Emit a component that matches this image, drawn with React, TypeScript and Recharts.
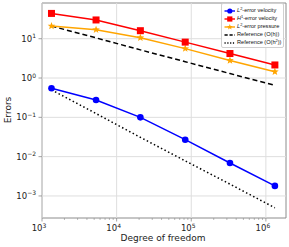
import React from 'react';
import { LineChart, Line, XAxis, YAxis, ReferenceLine, ReferenceArea } from 'recharts';

const dof = [1340, 5300, 20800, 83000, 330000, 1320000];
const l2Velocity = [0.55, 0.275, 0.1, 0.027, 0.0069, 0.0018];
const h1Velocity = [44, 30, 16, 8.2, 4.2, 2.15];
const l2Pressure = [21, 17, 10.6, 5.6, 2.8, 1.45];
const refH = [21, 10.5, 5.2, 2.6, 1.3, 0.65];
const refH2 = [0.5, 0.125, 0.031, 0.0078, 0.002, 0.0005];

const xMajor = [1e3, 1e4, 1e5, 1e6];
const xMajorExp = ['3', '4', '5', '6'];
const xMinor = [2, 3, 4, 5, 6, 7, 8, 9].flatMap(m => [m * 1e3, m * 1e4, m * 1e5]);
const yMajor = [1e1, 1e0, 1e-1, 1e-2, 1e-3];
const yMajorExp = ['1', '0', '\u22121', '\u22122', '\u22123'];

const X_DOMAIN: [number, number] = [1000, 1.86e6];
const Y_DOMAIN: [number, number] = [2.75e-4, 81];

const data = dof.map((d, i) => ({
    dof: d,
    l2Vel: l2Velocity[i],
    h1Vel: h1Velocity[i],
    l2Pres: l2Pressure[i],
    refH: refH[i],
    refH2: refH2[i],
}));

const FONT = 'DejaVu Sans, sans-serif';
const AXIS = '#8c8c8c';
const GRID = '#dedede';

const XTick = (props: any) => {
    const { x, y, payload } = props;
    const idx = xMajor.indexOf(payload.value);
    if (idx < 0) {
        return <line x1={x} x2={x} y1={y} y2={y + 2} stroke={AXIS} strokeWidth={0.6} />;
    }
    return (
        <g>
            <line x1={x} x2={x} y1={y} y2={y + 3.5} stroke={AXIS} strokeWidth={0.8} />
            <text x={x - 3} y={y + 13} textAnchor="middle" fontSize={8.5} fontFamily={FONT} fill="#222">
                10
                <tspan dy={-3.5} fontSize={6}>{xMajorExp[idx]}</tspan>
            </text>
        </g>
    );
};

const YTick = (props: any) => {
    const { x, y, payload } = props;
    const idx = yMajor.indexOf(payload.value);
    if (idx < 0) return null;
    return (
        <g>
            <line x1={x - 3.5} x2={x} y1={y} y2={y} stroke={AXIS} strokeWidth={0.8} />
            <text x={x - 6} y={y + 3} textAnchor="end" fontSize={8.5} fontFamily={FONT} fill="#222">
                10
                <tspan dy={-3.5} fontSize={6}>{yMajorExp[idx]}</tspan>
            </text>
        </g>
    );
};

const Square = (props: any) => {
    const { cx, cy } = props;
    if (cx == null || cy == null) return null;
    return <rect x={cx - 3.5} y={cy - 3.5} width={7} height={7} fill="#ff0000" />;
};

const starPoints = (cx: number, cy: number, ro: number, ri: number) => {
    const pts: string[] = [];
    for (let k = 0; k < 10; k++) {
        const r = k % 2 === 0 ? ro : ri;
        const a = -Math.PI / 2 + (k * Math.PI) / 5;
        pts.push(`${cx + r * Math.cos(a)},${cy + r * Math.sin(a)}`);
    }
    return pts.join(' ');
};

const Star = (props: any) => {
    const { cx, cy } = props;
    if (cx == null || cy == null) return null;
    return <polygon points={starPoints(cx, cy, 4, 1.7)} fill="#ffa500" />;
};

const legendItems = [
    { label: <><i>L</i><sup>2</sup>-error velocity</>, color: '#0000ff', kind: 'circle' },
    { label: <><i>H</i><sup>1</sup>-error velocity</>, color: '#ff0000', kind: 'square' },
    { label: <><i>L</i><sup>2</sup>-error pressure</>, color: '#ffa500', kind: 'star' },
    { label: <>Reference (O(h))</>, color: '#000', kind: 'dash' },
    { label: <>Reference (O(h<sup>2</sup>))</>, color: '#000', kind: 'dot' },
];

function LegendBox() {
    return (
        <div style={{
            position: 'absolute', left: 221, top: 3, width: 63, height: 45,
            border: '1px solid #d0d0d0', borderRadius: 2, background: 'rgba(255,255,255,0.85)',
            fontFamily: '"Liberation Sans", Arial, sans-serif', fontSize: 5.6, color: '#111',
            boxSizing: 'border-box', paddingTop: 3,
        }}>
            {legendItems.map((it, i) => (
                <div key={i} style={{ display: 'flex', alignItems: 'center', height: 7.9, whiteSpace: 'nowrap' }}>
                    <svg width={12} height={6} style={{ marginLeft: 1.5, marginRight: 1.5, flexShrink: 0 }}>
                        {it.kind === 'dash' && <line x1={0.5} x2={11} y1={3} y2={3} stroke="#000" strokeWidth={1.4} strokeDasharray="3.2 1.8" />}
                        {it.kind === 'dot' && <line x1={0.5} x2={11} y1={3} y2={3} stroke="#000" strokeWidth={1.4} strokeDasharray="1.2 1.6" />}
                        {(it.kind === 'circle' || it.kind === 'square' || it.kind === 'star') &&
                            <line x1={0.5} x2={11} y1={3} y2={3} stroke={it.color} strokeWidth={1.4} />}
                        {it.kind === 'circle' && <circle cx={5.8} cy={3} r={2.6} fill={it.color} />}
                        {it.kind === 'square' && <rect x={3.2} y={0.4} width={5.2} height={5.2} fill={it.color} />}
                        {it.kind === 'star' && <polygon points={starPoints(5.8, 3, 3, 1.3)} fill={it.color} />}
                    </svg>
                    <span style={{ lineHeight: 1 }}>{it.label}</span>
                </div>
            ))}
        </div>
    );
}

export default function App() {
    return (
        <div style={{ position: 'absolute', left: 0, top: 0, width: 289, height: 247, background: '#fff' }}>
            <style>{`sup { font-size: 0.7em; vertical-align: 0.45em; line-height: 0; }`}</style>
            <LineChart width={289} height={247} data={data} margin={{ top: 3, right: 3, left: 0, bottom: 0 }}>
                <XAxis dataKey="dof" type="number" scale="log" domain={X_DOMAIN} allowDataOverflow
                    ticks={[...xMajor, ...xMinor]} interval={0} tick={<XTick />} tickLine={false}
                    tickSize={0} tickMargin={0} axisLine={false} height={29} />
                <YAxis type="number" scale="log" domain={Y_DOMAIN} allowDataOverflow
                    ticks={yMajor} interval={0} tick={<YTick />} tickLine={false}
                    tickSize={0} tickMargin={0} axisLine={false} width={42} />
                {xMajor.map(v => <ReferenceLine key={'gx' + v} x={v} stroke={GRID} strokeWidth={1} />)}
                {yMajor.map(v => <ReferenceLine key={'gy' + v} y={v} stroke={GRID} strokeWidth={1} />)}
                <ReferenceArea x1={X_DOMAIN[0]} x2={X_DOMAIN[1]} y1={Y_DOMAIN[0]} y2={Y_DOMAIN[1]}
                    fill="none" stroke={AXIS} strokeWidth={1} ifOverflow="extendDomain" />
                <Line dataKey="refH" stroke="#000" strokeWidth={1.5} strokeDasharray="5 3" dot={false} isAnimationActive={false} />
                <Line dataKey="refH2" stroke="#000" strokeWidth={1.5} strokeDasharray="1.5 2.5" dot={false} isAnimationActive={false} />
                <Line dataKey="l2Pres" stroke="#ffa500" strokeWidth={1.5} dot={<Star />} isAnimationActive={false} />
                <Line dataKey="h1Vel" stroke="#ff0000" strokeWidth={1.5} dot={<Square />} isAnimationActive={false} />
                <Line dataKey="l2Vel" stroke="#0000ff" strokeWidth={1.5} dot={{ r: 3.3, fill: '#0000ff', stroke: '#0000ff', strokeWidth: 0 }} isAnimationActive={false} />
                <text x={163} y={241} textAnchor="middle" fontSize={9} fontFamily={FONT} fill="#222">Degree of freedom</text>
                <text x={11} y={110} textAnchor="middle" fontSize={9} fontFamily={FONT} fill="#222" transform="rotate(-90 11 110)">Errors</text>
            </LineChart>
            <LegendBox />
        </div>
    );
}
